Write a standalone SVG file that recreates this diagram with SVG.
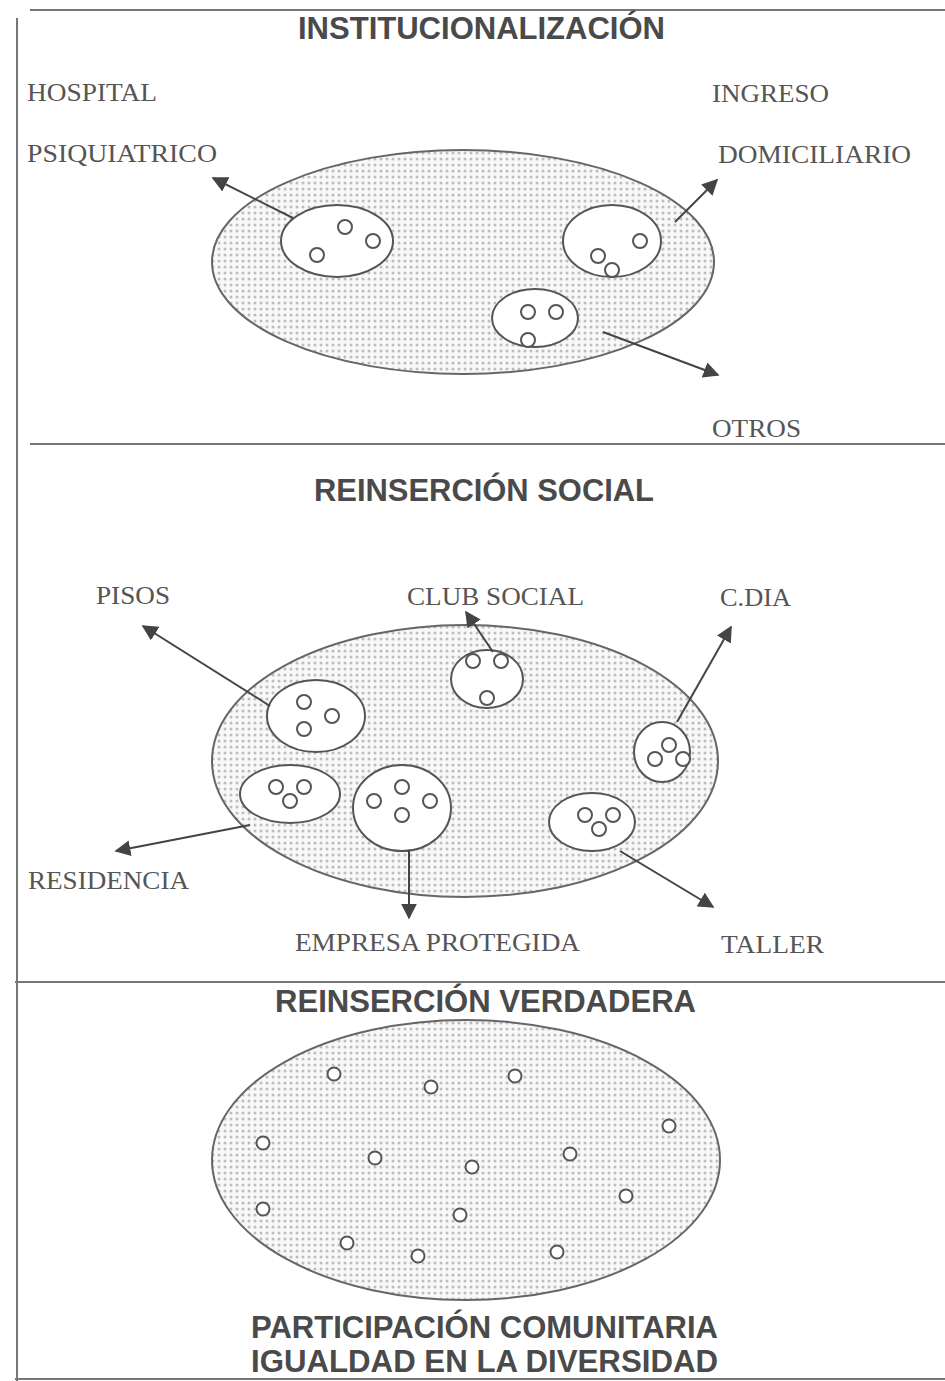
<svg xmlns="http://www.w3.org/2000/svg" width="945" height="1381" viewBox="0 0 945 1381">
  <style>
    .title { font-family: "Liberation Sans", Arial, sans-serif; font-weight: bold; font-size: 31px; fill: #4a4a4a; }
    .foot { font-family: "Liberation Sans", Arial, sans-serif; font-weight: bold; font-size: 31px; fill: #4a4a4a; }
    .lbl { font-family: "Liberation Serif", "Times New Roman", serif; font-size: 26px; fill: #555; }
    .frame { stroke: #777; stroke-width: 2; fill: none; }
    .big { fill: url(#dots); stroke: #666; stroke-width: 2; }
    .group { fill: #fff; stroke: #555; stroke-width: 2; }
    .person { fill: #fff; stroke: #555; stroke-width: 2; }
    .conn { stroke: #444; stroke-width: 2; fill: none; marker-end: url(#arrow); }
  </style>
  <defs>
    <pattern id="dots" width="6" height="6" patternUnits="userSpaceOnUse">
      <rect width="6" height="6" fill="#f8f8f8"/>
      <circle cx="3" cy="3" r="1.5" fill="#bdbdbd"/>
    </pattern>
    <marker id="arrow" viewBox="0 0 10 10" refX="9" refY="5" markerWidth="8" markerHeight="8" markerUnits="strokeWidth" orient="auto">
      <path d="M0,0 L10,5 L0,10 z" fill="#444"/>
    </marker>
  </defs>

  <rect width="945" height="1381" fill="#fff"/>

  <!-- frame and section dividers -->
  <g id="frame">
    <line class="frame" x1="30" y1="10" x2="945" y2="10"/>
    <line class="frame" x1="17" y1="18" x2="17" y2="1381"/>
    <line class="frame" x1="30" y1="444" x2="945" y2="444"/>
    <line class="frame" x1="15" y1="982" x2="945" y2="982"/>
    <line class="frame" x1="15" y1="1379" x2="945" y2="1379" stroke="#bbb"/>
  </g>

  <!-- section 1 -->
  <text class="title" x="298" y="39" textLength="367" lengthAdjust="spacingAndGlyphs">INSTITUCIONALIZACIÓN</text>

  <g id="inst">
    <ellipse class="big" cx="463" cy="262" rx="251" ry="112"/>
  </g>
  <g id="inst-hospital">
    <ellipse class="group" cx="337" cy="241" rx="56" ry="36"/>
    <circle class="person" cx="345" cy="227" r="7"/>
    <circle class="person" cx="373" cy="241" r="7"/>
    <circle class="person" cx="317" cy="255" r="7"/>
    <text class="lbl" x="27" y="101" textLength="130" lengthAdjust="spacingAndGlyphs">HOSPITAL</text>
    <text class="lbl" x="27" y="162" textLength="190" lengthAdjust="spacingAndGlyphs">PSIQUIATRICO</text>
  </g>
  <g id="inst-domicilio">
    <ellipse class="group" cx="612" cy="241" rx="49" ry="36"/>
    <circle class="person" cx="640" cy="241" r="7"/>
    <circle class="person" cx="598" cy="256" r="7"/>
    <circle class="person" cx="612" cy="270" r="7"/>
    <text class="lbl" x="712" y="102" textLength="117" lengthAdjust="spacingAndGlyphs">INGRESO</text>
    <text class="lbl" x="718" y="163" textLength="193" lengthAdjust="spacingAndGlyphs">DOMICILIARIO</text>
  </g>
  <g id="inst-otros">
    <ellipse class="group" cx="535" cy="318" rx="43" ry="29"/>
    <circle class="person" cx="528" cy="312" r="7"/>
    <circle class="person" cx="556" cy="312" r="7"/>
    <circle class="person" cx="528" cy="340" r="7"/>
    <text class="lbl" x="712" y="437" textLength="89" lengthAdjust="spacingAndGlyphs">OTROS</text>
  </g>

  <!-- section 2 -->
  <text class="title" x="314" y="501" textLength="340" lengthAdjust="spacingAndGlyphs">REINSERCIÓN SOCIAL</text>

  <g id="social">
    <ellipse class="big" cx="465" cy="761" rx="253" ry="136"/>
  </g>
  <g id="social-pisos">
    <ellipse class="group" cx="316" cy="716" rx="49" ry="36"/>
    <circle class="person" cx="304" cy="702" r="7"/>
    <circle class="person" cx="332" cy="716" r="7"/>
    <circle class="person" cx="304" cy="729" r="7"/>
    <text class="lbl" x="96" y="604" textLength="74" lengthAdjust="spacingAndGlyphs">PISOS</text>
  </g>
  <g id="social-club">
    <ellipse class="group" cx="487" cy="679" rx="36" ry="29"/>
    <circle class="person" cx="473" cy="661" r="7"/>
    <circle class="person" cx="501" cy="661" r="7"/>
    <circle class="person" cx="487" cy="698" r="7"/>
    <text class="lbl" x="407" y="605" textLength="177" lengthAdjust="spacingAndGlyphs">CLUB SOCIAL</text>
  </g>
  <g id="social-cdia">
    <ellipse class="group" cx="662" cy="752" rx="28" ry="30"/>
    <circle class="person" cx="669" cy="745" r="7"/>
    <circle class="person" cx="655" cy="759" r="7"/>
    <circle class="person" cx="683" cy="759" r="7"/>
    <text class="lbl" x="720" y="606" textLength="71" lengthAdjust="spacingAndGlyphs">C.DIA</text>
  </g>
  <g id="social-residencia">
    <ellipse class="group" cx="290" cy="794" rx="50" ry="29"/>
    <circle class="person" cx="276" cy="787" r="7"/>
    <circle class="person" cx="304" cy="787" r="7"/>
    <circle class="person" cx="290" cy="801" r="7"/>
    <text class="lbl" x="28" y="889" textLength="161" lengthAdjust="spacingAndGlyphs">RESIDENCIA</text>
  </g>
  <g id="social-empresa">
    <ellipse class="group" cx="402" cy="808" rx="49" ry="43"/>
    <circle class="person" cx="402" cy="787" r="7"/>
    <circle class="person" cx="374" cy="801" r="7"/>
    <circle class="person" cx="430" cy="801" r="7"/>
    <circle class="person" cx="402" cy="815" r="7"/>
    <text class="lbl" x="295" y="951" textLength="285" lengthAdjust="spacingAndGlyphs">EMPRESA PROTEGIDA</text>
  </g>
  <g id="social-taller">
    <ellipse class="group" cx="592" cy="822" rx="43" ry="29"/>
    <circle class="person" cx="585" cy="815" r="7"/>
    <circle class="person" cx="613" cy="815" r="7"/>
    <circle class="person" cx="599" cy="829" r="7"/>
    <text class="lbl" x="721" y="953" textLength="103" lengthAdjust="spacingAndGlyphs">TALLER</text>
  </g>

  <!-- section 3 -->
  <text class="title" x="275" y="1012" textLength="421" lengthAdjust="spacingAndGlyphs">REINSERCIÓN VERDADERA</text>

  <g id="verdadera">
    <ellipse class="big" cx="466" cy="1160" rx="254" ry="140"/>
    <circle class="person" cx="334" cy="1074" r="6.5"/>
    <circle class="person" cx="431" cy="1087" r="6.5"/>
    <circle class="person" cx="515" cy="1076" r="6.5"/>
    <circle class="person" cx="263" cy="1143" r="6.5"/>
    <circle class="person" cx="375" cy="1158" r="6.5"/>
    <circle class="person" cx="472" cy="1167" r="6.5"/>
    <circle class="person" cx="570" cy="1154" r="6.5"/>
    <circle class="person" cx="669" cy="1126" r="6.5"/>
    <circle class="person" cx="263" cy="1209" r="6.5"/>
    <circle class="person" cx="460" cy="1215" r="6.5"/>
    <circle class="person" cx="626" cy="1196" r="6.5"/>
    <circle class="person" cx="347" cy="1243" r="6.5"/>
    <circle class="person" cx="418" cy="1256" r="6.5"/>
    <circle class="person" cx="557" cy="1252" r="6.5"/>
  </g>

  <text class="foot" x="251" y="1338" textLength="467" lengthAdjust="spacingAndGlyphs">PARTICIPACIÓN COMUNITARIA</text>
  <text class="foot" x="251" y="1372" textLength="467" lengthAdjust="spacingAndGlyphs">IGUALDAD EN LA DIVERSIDAD</text>

  <!-- connectors -->
  <g id="connectors">
    <line class="conn" x1="293" y1="218" x2="213" y2="178"/>
    <line class="conn" x1="675" y1="222" x2="717" y2="180"/>
    <line class="conn" x1="603" y1="332" x2="718" y2="375"/>
    <line class="conn" x1="270" y1="706" x2="143" y2="626"/>
    <line class="conn" x1="493" y1="652" x2="466" y2="612"/>
    <line class="conn" x1="677" y1="722" x2="731" y2="627"/>
    <line class="conn" x1="250" y1="825" x2="116" y2="851"/>
    <line class="conn" x1="409" y1="850" x2="409" y2="918"/>
    <line class="conn" x1="620" y1="851" x2="713" y2="907"/>
  </g>
</svg>
